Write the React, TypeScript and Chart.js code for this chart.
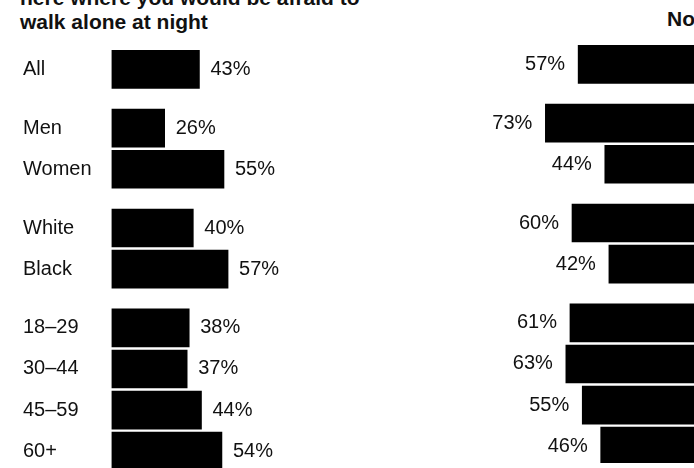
import React, { useEffect, useRef } from 'react';
import { Chart, registerables } from 'chart.js';

Chart.register(...registerables);

// ---- data ----
const titleLines = ['here where you would be afraid to', 'walk alone at night'];
const noHeader = 'No';
const groups: string[][] = [
  ['All'],
  ['Men', 'Women'],
  ['White', 'Black'],
  ['18–29', '30–44', '45–59', '60+'],
];
const categories: string[] = groups.flat();
const yesValues: number[] = [43, 26, 55, 40, 57, 38, 37, 44, 54];
const noValues: number[] = [57, 73, 44, 60, 42, 61, 63, 55, 46];

// ---- layout helpers ----
const GROUP_GAP = 0.43;
const Y_MIN = -1.69;
const Y_MAX = 9.7;
const FONT = '"Liberation Sans", Arial, Helvetica, sans-serif';
const INK = '#111';

function rowPositions(): number[] {
  const pos: number[] = [];
  let idx = 0;
  groups.forEach((g, gi) => {
    g.forEach(() => {
      pos.push(idx + gi * GROUP_GAP);
      idx++;
    });
  });
  return pos;
}

function valueLabelPlugin(side: 'right' | 'left', gap: number) {
  return {
    id: 'valueLabels' + side,
    afterDatasetsDraw(chart: any) {
      const ctx = chart.ctx;
      const meta = chart.getDatasetMeta(0);
      const ds = chart.data.datasets[0];
      ctx.save();
      ctx.font = `20px ${FONT}`;
      ctx.fillStyle = INK;
      ctx.textBaseline = 'middle';
      ctx.textAlign = side === 'right' ? 'left' : 'right';
      meta.data.forEach((el: any, i: number) => {
        const v = ds.data[i].x;
        const x = side === 'right' ? el.x + gap : el.x - gap;
        ctx.fillText(`${v}%`, x, el.y);
      });
      ctx.restore();
    },
  };
}

export default function App() {
  const leftRef = useRef<HTMLCanvasElement | null>(null);
  const rightRef = useRef<HTMLCanvasElement | null>(null);

  useEffect(() => {
    const pos = rowPositions();
    const labelAt = (v: number) => {
      const i = pos.findIndex((p) => Math.abs(p - v) < 1e-6);
      return i >= 0 ? categories[i] : '';
    };

    const left = new Chart(leftRef.current!, {
      type: 'bar',
      data: {
        datasets: [
          {
            data: yesValues.map((v, i) => ({ x: v, y: pos[i] })),
            backgroundColor: '#000',
            borderWidth: 0,
            barThickness: 38,
          } as any,
        ],
      },
      options: {
        indexAxis: 'y',
        responsive: false,
        animation: false,
        layout: { padding: { left: 23, right: 0, top: 0, bottom: 0 } },
        plugins: { legend: { display: false }, tooltip: { enabled: false }, title: { display: false } },
        scales: {
          x: { type: 'linear', min: 0, max: 100, display: false },
          y: {
            type: 'linear',
            reverse: true,
            offset: false,
            min: Y_MIN,
            max: Y_MAX,
            bounds: 'data',
            grid: { display: false, drawTicks: false },
            border: { display: false },
            afterBuildTicks: (scale: any) => {
              scale.ticks = pos.map((v) => ({ value: v }));
            },
            afterFit: (scale: any) => {
              scale.width = 88.5;
              scale.paddingTop = 0;
              scale.paddingBottom = 0;
            },
            ticks: {
              autoSkip: false,
              crossAlign: 'far',
              padding: 0,
              color: INK,
              font: { family: FONT, size: 20 },
              callback: (v: any) => labelAt(Number(v)),
            },
          } as any,
        },
      },
      plugins: [valueLabelPlugin('right', 11)],
    } as any);

    const right = new Chart(rightRef.current!, {
      type: 'bar',
      data: {
        datasets: [
          {
            data: noValues.map((v, i) => ({ x: v, y: pos[i] })),
            backgroundColor: '#000',
            borderWidth: 0,
            barThickness: 38,
          } as any,
        ],
      },
      options: {
        indexAxis: 'y',
        responsive: false,
        animation: false,
        layout: { padding: { left: 90, right: 0, top: 0, bottom: 0 } },
        plugins: { legend: { display: false }, tooltip: { enabled: false }, title: { display: false } },
        scales: {
          x: { type: 'linear', min: 0, max: 100, reverse: true, display: false },
          y: { type: 'linear', reverse: true, offset: false, min: Y_MIN, max: Y_MAX, display: false },
        },
      },
      plugins: [valueLabelPlugin('left', 13)],
    } as any);

    return () => {
      left.destroy();
      right.destroy();
    };
  }, []);

  return (
    <div
      style={{
        position: 'fixed',
        left: 0,
        top: 0,
        width: 694,
        height: 468,
        overflow: 'hidden',
        background: '#fff',
      }}
    >
      <div
        style={{
          position: 'absolute',
          left: 20,
          top: -14,
          font: `bold 21px ${FONT}`,
          lineHeight: '24px',
          color: INK,
          whiteSpace: 'nowrap',
        }}
      >
        {titleLines.map((t) => (
          <div key={t}>{t}</div>
        ))}
      </div>
      <div
        style={{
          position: 'absolute',
          left: 667,
          top: 7,
          font: `bold 21px ${FONT}`,
          lineHeight: '24px',
          color: INK,
          whiteSpace: 'nowrap',
        }}
      >
        {noHeader}
      </div>
      <canvas
        ref={leftRef}
        width={316}
        height={468}
        style={{ position: 'absolute', left: 0, top: 0 }}
      />
      <canvas
        ref={rightRef}
        width={295}
        height={468}
        style={{ position: 'absolute', left: 400, top: -5 }}
      />
    </div>
  );
}
